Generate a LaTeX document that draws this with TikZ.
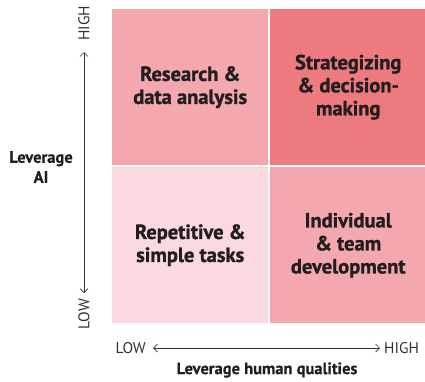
\documentclass[tikz,border=0pt]{standalone}
\usepackage{fontspec}
\setmainfont{PT Sans}
\newfontfamily\heavyfont[FakeBold=1.2]{PT Sans Bold}
\newfontfamily\midfont[FakeBold=0.6]{PT Sans Bold}
\usetikzlibrary{arrows.meta}
\definecolor{quadlight}{RGB}{250,218,224}
\definecolor{quadmid}{RGB}{243,167,175}
\definecolor{quaddark}{RGB}{236,122,126}
\definecolor{inkdark}{RGB}{34,30,32}
\definecolor{axisgray}{RGB}{50,50,50}
\tikzset{
  quad/.style={draw=none, minimum width=156pt, minimum height=156pt, inner sep=0pt},
  quadtext/.style={align=center, font=\heavyfont\fontsize{20.5}{23}\selectfont, text=inkdark},
  axisline/.style={draw=axisgray, line width=0.7pt, {Straight Barb[length=4pt,width=8pt]}-{Straight Barb[length=4pt,width=8pt]}},
  axisend/.style={font=\fontsize{15.5}{18}\selectfont, text=axisgray, inner sep=0pt},
  axistitle/.style={align=center, font=\midfont\fontsize{16.5}{20}\selectfont, text=inkdark},
}
\begin{document}
\begin{tikzpicture}[x=1pt,y=-1pt]
  \useasboundingbox (0,0) rectangle (425,381);
  % quadrants
  \node[quad, fill=quadmid,   anchor=north west] (tl) at (112,9)   {};
  \node[quad, fill=quaddark,  anchor=north west] (tr) at (270,9)   {};
  \node[quad, fill=quadlight, anchor=north west] (bl) at (112,167) {};
  \node[quad, fill=quadmid,   anchor=north west] (br) at (270,167) {};
  \node[quadtext] (tltext) at (tl.center) {Research \&\\data analysis};
  \node[quadtext] (trtext) at (tr.center) {Strategizing\\\& decision-\\making};
  \node[quadtext] (bltext) at (bl.center) {Repetitive \&\\simple tasks};
  \node[quadtext] (brtext) at (br.center) {Individual\\\& team\\development};
  % vertical axis
  \node[axisend, rotate=90] (vhigh) at (84,23) {HIGH};
  \node[axisend, rotate=90] (vlow) at (84,314) {LOW};
  \coordinate (vtop) at (84,52);
  \coordinate (vbot) at (84,293);
  \draw[axisline] (vbot) -- (vtop);
  \node[axistitle] (vtitle) at (41,167) {Leverage\\AI};
  % horizontal axis
  \node[axisend, anchor=east] (hlow) at (146,348) {LOW};
  \node[axisend, anchor=west] (hhigh) at (384,348) {HIGH};
  \coordinate (hleft) at (153,348);
  \coordinate (hright) at (380,348);
  \draw[axisline] (hleft) -- (hright);
  \node[axistitle] (htitle) at (267,370) {Leverage human qualities};
\end{tikzpicture}
\end{document}
